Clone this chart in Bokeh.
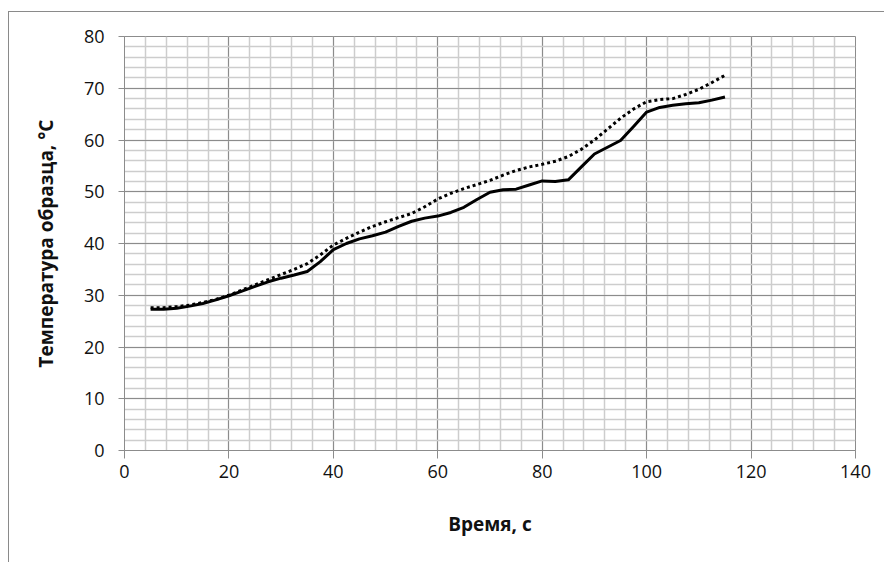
from bokeh.plotting import figure
from bokeh.models import SingleIntervalTicker, Range1d
from bokeh.embed import file_html
from bokeh.resources import INLINE

time_s = [5, 7.5, 10, 12.5, 15, 17.5, 20, 22.5, 25, 27.5, 30, 32.5, 35, 37.5, 40, 42.5, 45, 47.5,
          50, 52.5, 55, 57.5, 60, 62.5, 65, 67.5, 70, 72.5, 75, 77.5, 80, 82.5, 85, 87.5, 90, 92.5,
          95, 97.5, 100, 102.5, 105, 107.5, 110, 112.5, 115]
temp_solid = [27.3, 27.3, 27.5, 27.9, 28.4, 29.1, 29.9, 30.8, 31.7, 32.6, 33.3, 33.9, 34.6, 36.5,
              38.8, 40.0, 40.9, 41.5, 42.2, 43.3, 44.3, 44.9, 45.3, 46.0, 47.0, 48.5, 49.9, 50.4,
              50.5, 51.3, 52.1, 52.0, 52.3, 54.8, 57.3, 58.6, 59.9, 62.6, 65.4, 66.3, 66.7, 67.0,
              67.2, 67.7, 68.3]
temp_dotted = [27.6, 27.6, 27.8, 28.1, 28.6, 29.2, 30.0, 31.0, 32.0, 33.0, 34.0, 35.0, 36.1, 37.8,
               39.7, 41.0, 42.2, 43.3, 44.2, 45.0, 45.8, 47.1, 48.6, 49.7, 50.6, 51.4, 52.2, 53.2,
               54.1, 54.8, 55.3, 55.9, 56.8, 58.2, 60.0, 62.1, 64.2, 66.0, 67.4, 67.8, 68.0, 68.8,
               69.8, 71.1, 72.5]

FONT = "Open Sans"

p = figure(width=876, height=551, output_backend="svg", toolbar_location=None,
           x_range=Range1d(0, 140), y_range=Range1d(0, 80),
           min_border_left=115, min_border_right=30, min_border_top=24, min_border_bottom=113)
p.margin = (11, 0, 0, 8)
p.styles = {"border-left": "1px solid #8a8a8a", "border-top": "1px solid #8a8a8a"}

p.xaxis.ticker = SingleIntervalTicker(interval=20, num_minor_ticks=5)
p.yaxis.ticker = SingleIntervalTicker(interval=10, num_minor_ticks=5)

p.xgrid.grid_line_color = "#8c8c8c"
p.ygrid.grid_line_color = "#8c8c8c"
p.xgrid.minor_grid_line_color = "#cdcdcd"
p.ygrid.minor_grid_line_color = "#cdcdcd"
p.xgrid.minor_grid_line_width = 1.5
p.ygrid.minor_grid_line_width = 1.5
p.outline_line_color = "#8c8c8c"

for ax in (p.xaxis[0], p.yaxis[0]):
    ax.axis_line_color = "#8c8c8c"
    ax.major_tick_line_color = "#8c8c8c"
    ax.minor_tick_line_color = None
    ax.major_tick_in = 0
    ax.major_label_text_font = FONT
    ax.major_label_text_font_size = "18px"
    ax.major_label_text_color = "#111111"
    ax.axis_label_text_font = FONT
    ax.axis_label_text_font_style = "bold"
    ax.axis_label_text_font_size = "19px"
    ax.axis_label_text_color = "#111111"

p.xaxis.major_tick_out = 8
p.xaxis.major_label_standoff = 6
p.xaxis.axis_label = "Время, с"
p.xaxis.axis_label_standoff = 30

p.yaxis.major_tick_out = 6
p.yaxis.major_label_standoff = 14
p.yaxis.axis_label = "Температура образца, °С"
p.yaxis.axis_label_standoff = 22

p.line(time_s, temp_dotted, line_color="black", line_width=3, line_dash="3 3")
p.line(time_s, temp_solid, line_color="black", line_width=3, line_join="round")

open("out.html", "w").write(file_html(p, INLINE))
